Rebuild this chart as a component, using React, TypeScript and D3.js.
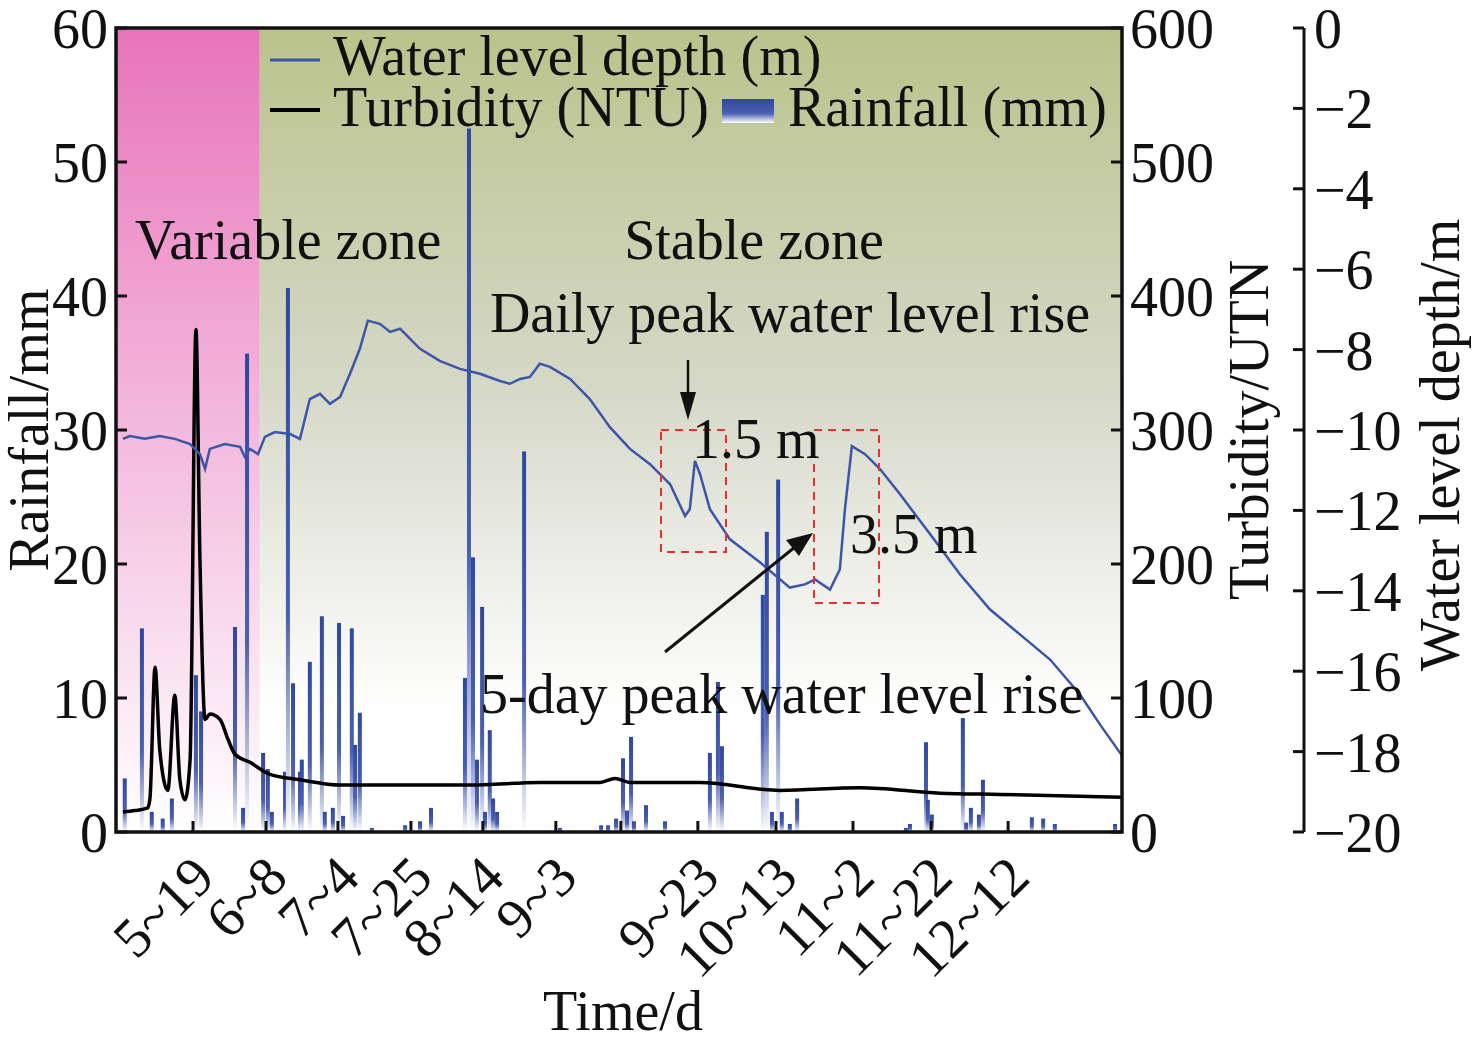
import * as d3 from 'd3'

// day index along the record, 0 = first day shown
const tickDays = [19.2, 39.2, 58.9, 78.9, 98.6, 118.6, 136.4, 157.5, 178.9, 200, 221.4, 242.5]
const tickLabels = ['5~19', '6~8', '7~4', '7~25', '8~14', '9~3', '', '9~23', '10~13', '11~2', '11~22', '12~12']

const levelDays = [0, 1.9, 6, 10.1, 14.2, 18.4, 21.1, 22.5, 23.8, 27.9, 32.1, 33.4, 34.8, 37, 38.9, 41.6, 45.8, 48.5, 51.2, 54, 56.7, 59.5, 62.2, 64.9, 67.1, 70.4, 73.2, 75.9, 81.4, 86.8, 92.3, 97.8, 103.3, 106, 108.8, 111.5, 114.2, 117, 122.5, 127.9, 133.4, 138.9, 144.4, 149.9, 154, 155.3, 156.7, 158.1, 160.8, 166.3, 174.5, 182.7, 186.8, 189.6, 193.7, 196.4, 197.8, 199.7, 203.3, 207.4, 212.9, 221.1, 229.3, 237.5, 245.8, 254, 262.2, 267.7, 273.7]
const levelDepth = [-10.22, -10.15, -10.22, -10.15, -10.22, -10.35, -10.6, -10.97, -10.47, -10.35, -10.42, -10.67, -10.47, -10.6, -10.17, -10.05, -10.1, -10.22, -9.23, -9.1, -9.35, -9.18, -8.6, -7.98, -7.28, -7.36, -7.56, -7.48, -7.98, -8.28, -8.48, -8.6, -8.78, -8.85, -8.73, -8.68, -8.35, -8.43, -8.73, -9.23, -9.93, -10.47, -10.85, -11.35, -12.14, -11.97, -10.77, -11.1, -11.97, -12.72, -13.29, -13.92, -13.84, -13.72, -13.97, -13.47, -11.97, -10.4, -10.6, -10.97, -11.6, -12.59, -13.59, -14.46, -15.09, -15.71, -16.58, -17.33, -18.1]

const turbDays = [0, 3.3, 6.8, 7.4, 8.8, 10.1, 12.3, 14.2, 15.6, 17, 18.4, 20, 21.1, 22.5, 23.8, 26.6, 28.8, 30.7, 34.8, 40.3, 48.5, 59.5, 75.9, 95.1, 114.2, 130.7, 134.8, 138.9, 158.1, 180, 201.9, 223.8, 240.3, 273.7]
const turbNTU = [15, 16, 18, 25, 123, 61, 31, 102, 39, 24, 54, 375, 203, 84, 88, 84, 69, 58, 52, 43, 39, 35, 35, 35, 37, 37, 40, 37, 37, 31, 33, 29, 28, 26]

const rainDays = [0.5, 5.2, 7.9, 10.9, 13.4, 20, 21.4, 30.7, 32.9, 34, 38.4, 39.7, 40.8, 44.4, 45.2, 46.6, 48.5, 49, 51.2, 54.5, 55.3, 57.5, 59.2, 60.3, 62.7, 63.6, 64.9, 68.2, 77.3, 81.4, 84.4, 93.7, 94.8, 95.9, 97, 98.4, 99.2, 100.5, 101.4, 102.5, 109.9, 119.7, 131, 132.9, 135.1, 137, 138.1, 139.2, 140, 143.3, 148.5, 160.8, 163, 164.1, 175.3, 176.4, 177.8, 179.5, 180.5, 182.7, 184.7, 214.5, 215.6, 220, 220.5, 221.6, 230.1, 231, 232.3, 234.5, 235.6, 249, 252.1, 255.3, 271.8]
const rainMM = [4, 15.2, 1.5, 1, 2.5, 11.7, 9, 15.3, 1.8, 35.7, 5.9, 4.7, 1.5, 4.5, 40.6, 11.1, 4.5, 5.4, 12.7, 16.1, 1.5, 1.8, 15.6, 1.2, 15.2, 6.5, 8.9, 0.3, 0.5, 0.8, 1.8, 11.5, 52.5, 20.5, 5.4, 16.8, 1.5, 7.6, 2.5, 1.5, 28.4, 0.3, 0.5, 0.5, 1, 5.5, 1.6, 7.1, 0.8, 2, 0.8, 5.9, 11.2, 6.4, 17.7, 22.4, 1.5, 26.3, 1.5, 0.6, 2.5, 0.3, 0.6, 6.7, 2.4, 1.3, 8.5, 0.7, 1.8, 1.3, 3.9, 1.1, 1, 0.6, 0.6]

const zoneEndDay = 37.5

const L = 116, R = 1122, T = 28, B = 832
const AX3 = 1304
const font = '"Liberation Serif", "Times New Roman", serif'
const blue = '#3b55a8'

export default function App() {
  const x = d3.scaleLinear().domain([-1.9, 273.7]).range([L, R])
  const yRain = d3.scaleLinear().domain([0, 60]).range([B, T])
  const yTurb = d3.scaleLinear().domain([0, 600]).range([B, T])
  const yLevel = d3.scaleLinear().domain([-20, 0]).range([B, T])

  const levelLine = d3.line<number>().x((_, i) => x(levelDays[i])).y((d) => yLevel(d))
  const turbLine = d3.line<number>().x((_, i) => x(turbDays[i])).y((d) => yTurb(d)).curve(d3.curveMonotoneX)

  const ts = { fontFamily: font, fontSize: 56, fill: '#111' }

  return (
    <svg width={1476} height={1047} style={{ position: 'absolute', left: 0, top: 0, background: '#fff' }}>
      <defs>
        <linearGradient id="pinkBg" x1="0" y1="0" x2="0" y2="1">
          <stop offset="0" stopColor="#e874bb" />
          <stop offset="1" stopColor="#ffffff" />
        </linearGradient>
        <linearGradient id="oliveBg" x1="0" y1="0" x2="0" y2="1">
          <stop offset="0" stopColor="#bac38b" />
          <stop offset="0.45" stopColor="#d6d8c8" />
          <stop offset="0.85" stopColor="#ffffff" />
          <stop offset="1" stopColor="#ffffff" />
        </linearGradient>
        <linearGradient id="barGrad" x1="0" y1="0" x2="0" y2="1">
          <stop offset="0" stopColor="#2f48a0" />
          <stop offset="0.6" stopColor="#4a5fb0" />
          <stop offset="1" stopColor="#ffffff" />
        </linearGradient>
      </defs>

      <rect x={L} y={T} width={x(zoneEndDay) - L} height={B - T} fill="url(#pinkBg)" />
      <rect x={x(zoneEndDay)} y={T} width={R - x(zoneEndDay)} height={B - T} fill="url(#oliveBg)" />

      {rainDays.map((d, i) => (
        <rect key={i} x={x(d) - 2} y={yRain(rainMM[i])} width={4} height={B - yRain(rainMM[i])} fill="url(#barGrad)" />
      ))}

      <path d={turbLine(turbNTU) ?? ''} fill="none" stroke="#000" strokeWidth={3.5} />
      <path d={levelLine(levelDepth) ?? ''} fill="none" stroke={blue} strokeWidth={2.5} />

      <rect x={L} y={T} width={R - L} height={B - T} fill="none" stroke="#111" strokeWidth={3.5} />

      {yRain.ticks(6).map((t) => (
        <g key={'l' + t}>
          <line x1={L} x2={L + 11} y1={yRain(t)} y2={yRain(t)} stroke="#111" strokeWidth={3} />
          <text x={L - 8} y={yRain(t) + 20} textAnchor="end" {...ts}>{t}</text>
        </g>
      ))}
      {yTurb.ticks(6).map((t) => (
        <g key={'r' + t}>
          <line x1={R - 11} x2={R} y1={yTurb(t)} y2={yTurb(t)} stroke="#111" strokeWidth={3} />
          <text x={R + 8} y={yTurb(t) + 20} textAnchor="start" {...ts}>{t}</text>
        </g>
      ))}
      <line x1={AX3} x2={AX3} y1={T} y2={B} stroke="#111" strokeWidth={3} />
      {yLevel.ticks(10).map((t) => (
        <g key={'w' + t}>
          <line x1={AX3 - 11} x2={AX3} y1={yLevel(t)} y2={yLevel(t)} stroke="#111" strokeWidth={3} />
          <text x={AX3 + 10} y={yLevel(t) + 20} textAnchor="start" {...ts}>{t === 0 ? '0' : '\u2212' + Math.abs(t)}</text>
        </g>
      ))}
      {tickDays.map((d, i) => (
        <g key={'b' + i}>
          <line x1={x(d)} x2={x(d)} y1={B} y2={B - 11} stroke="#111" strokeWidth={3} />
          {tickLabels[i] && (
            <text transform={`translate(${x(d) + 24},${B + 48}) rotate(-45)`} textAnchor="end" {...ts}>{tickLabels[i]}</text>
          )}
        </g>
      ))}

      <text transform={`translate(48,${(T + B) / 2}) rotate(-90)`} textAnchor="middle" {...ts}>Rainfall/mm</text>
      <text transform={`translate(1268,${(T + B) / 2}) rotate(-90)`} textAnchor="middle" {...ts}>Turbidity/UTN</text>
      <text transform={`translate(1459,445) rotate(-90)`} textAnchor="middle" {...ts}>Water level depth/m</text>
      <text x={623} y={1030} textAnchor="middle" {...ts}>Time/d</text>

      <line x1={270} x2={320} y1={60} y2={60} stroke={blue} strokeWidth={3} />
      <text x={333} y={75} {...ts}>Water level depth (m)</text>
      <line x1={270} x2={320} y1={110} y2={110} stroke="#000" strokeWidth={4} />
      <text x={333} y={126} {...ts}>Turbidity (NTU)</text>
      <rect x={722} y={99} width={52} height={24} fill="url(#barGrad)" />
      <text x={788} y={126} {...ts}>Rainfall (mm)</text>

      <text x={135} y={259} {...ts}>Variable zone</text>
      <text x={754} y={259} textAnchor="middle" {...ts}>Stable zone</text>
      <text x={790} y={332} textAnchor="middle" {...ts}>Daily peak water level rise</text>
      <line x1={688} x2={688} y1={360} y2={395} stroke="#111" strokeWidth={2.5} />
      <path d="M680,392 L696,392 L688,420 Z" fill="#111" />
      <rect x={661} y={430} width={65} height={122} fill="none" stroke="#e53030" strokeWidth={2} strokeDasharray="8,6" />
      <rect x={814} y={430} width={65} height={173} fill="none" stroke="#e53030" strokeWidth={2} strokeDasharray="8,6" />
      <text x={692} y={458} {...ts}>1.5 m</text>
      <text x={850} y={553} {...ts}>3.5 m</text>
      <line x1={665} x2={795} y1={652} y2={547} stroke="#111" strokeWidth={3} />
      <path d="M813,533 L786,540 L799,556 Z" fill="#111" />
      <text x={480} y={713} {...ts}>5-day peak water level rise</text>
    </svg>
  )
}
